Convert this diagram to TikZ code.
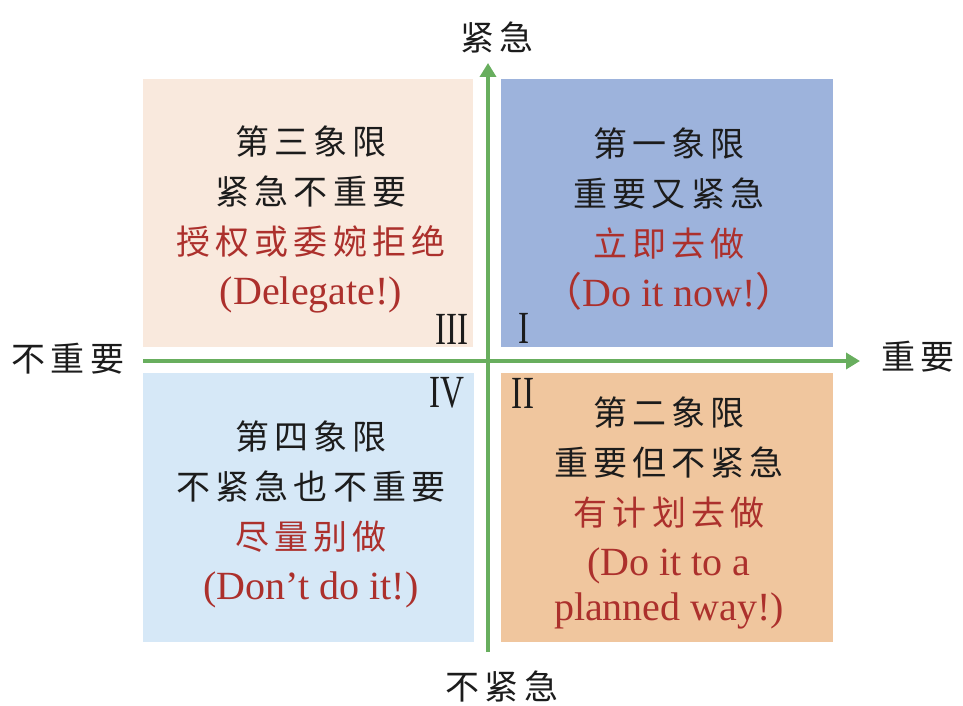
\documentclass[tikz,border=0pt]{standalone}
\usepackage{graphicx}
\usepackage{fontspec}
\setmainfont{Liberation Serif}
\newfontfamily\cjk[LetterSpace=15]{Noto Sans CJK SC}
\newfontfamily\cjkplain{Noto Sans CJK SC}
\usetikzlibrary{arrows.meta}
\definecolor{quadpeach}{HTML}{F9E9DD}
\definecolor{quadblue}{HTML}{9DB3DC}
\definecolor{quadsky}{HTML}{D6E8F7}
\definecolor{quadtan}{HTML}{F0C69E}
\definecolor{axisgreen}{HTML}{68AE5E}
\definecolor{textred}{HTML}{AC302C}
\definecolor{inkblack}{HTML}{1C1C1C}
\newcommand{\todo}[1]{{\color{textred}#1}}
\newcommand{\eng}[1]{{\fontsize{40}{50}\selectfont\rmfamily\color{textred}#1}}
\newcommand{\numeral}[1]{\scalebox{0.72}[1]{#1}}
\tikzset{
  axis/.style={line width=4pt,draw=axisgreen,-{Triangle[length=14pt,width=16pt]}},
  quadtext/.style={align=center,inner sep=0,text=inkblack,font=\fontsize{34}{50}\selectfont\cjk},
  axlab/.style={inner sep=0,text=inkblack,font=\fontsize{34}{40}\selectfont\cjk},
  roman/.style={inner sep=0,text=inkblack,font=\fontsize{46}{46}\selectfont},
}
\begin{document}
\begin{tikzpicture}[x=1pt,y=-1pt]
  \useasboundingbox (0,0) rectangle (963,706);
  % the four quadrants
  \fill[quadpeach] (143,79) rectangle (473,347);
  \fill[quadblue] (501,79) rectangle (833,347);
  \fill[quadsky] (143,373) rectangle (474,642);
  \fill[quadtan] (501,373) rectangle (833,642);
  % axes
  \coordinate (xl) at (143,361); \coordinate (xr) at (860,361);
  \coordinate (yb) at (488,652); \coordinate (yt) at (488,63);
  \draw[axis] (xl) -- (xr);
  \draw[axis] (yb) -- (yt);
  \node[axlab] (urgent) at (497,37) {紧急};
  \node[axlab] (noturgent) at (502,686) {不紧急};
  \node[axlab] (notimportant) at (68,359) {不重要};
  \node[axlab] (important) at (918,357) {重要};
  % quadrant texts
  \node[quadtext] (q3) at (311,219) {第三象限\\紧急不重要\\\todo{授权或委婉拒绝}\\\eng{(Delegate!)}};
  \node[quadtext] (q1) at (669,219) {第一象限\\重要又紧急\\\todo{立即去做}\\\eng{{\cjkplain （}Do it now!{\cjkplain ）}}};
  \node[quadtext] (q4) at (311,514) {第四象限\\不紧急也不重要\\\todo{尽量别做}\\\eng{(Don’t do it!)}};
  \node[quadtext] (q2) at (669,513) {第二象限\\重要但不紧急\\\todo{有计划去做}\\\eng{(Do it to a}\\[-5pt]\eng{planned way!)}};
  \node[roman] (r3) at (452,329) {\numeral{III}};
  \node[roman] (r1) at (524,328) {\numeral{I}};
  \node[roman] (r4) at (447,393) {\numeral{IV}};
  \node[roman] (r2) at (523,393) {\numeral{II}};
\end{tikzpicture}
\end{document}
